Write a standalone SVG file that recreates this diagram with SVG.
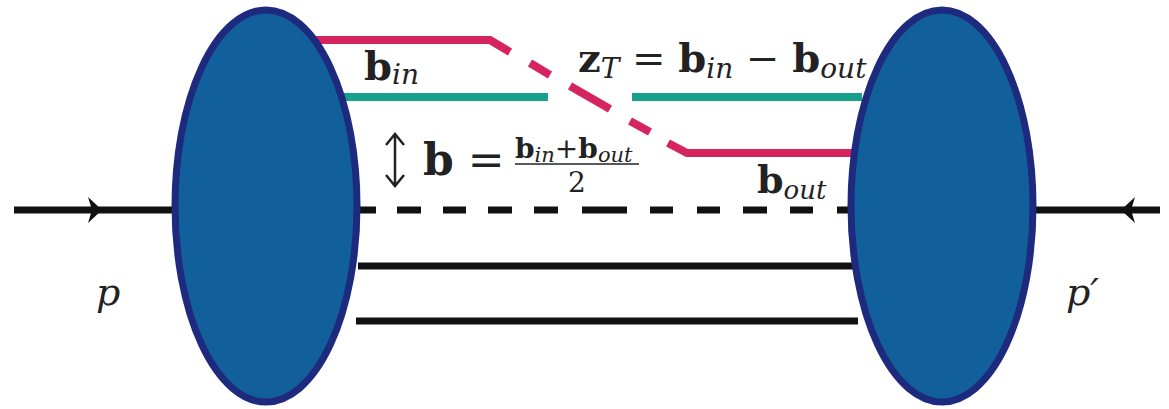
<svg xmlns="http://www.w3.org/2000/svg" width="1169" height="409" viewBox="0 0 1169 409">
<style>
.blob{fill:#12609b;stroke:#1e2a7e;stroke-width:7}
.blk{stroke:#111;stroke-width:7;fill:none}
.red{stroke:#d6245f;stroke-width:8;fill:none}
.teal{stroke:#17a08c;stroke-width:8;fill:none}
.t{font-family:'DejaVu Serif','Liberation Serif',serif;fill:#222}
.bb{font-weight:bold}
.it{font-style:italic}
</style>
<rect width="1169" height="409" fill="#fff"/>
<g id="connectors">
<line class="blk" x1="14" y1="210" x2="178" y2="210"/>
<path d="M102,210 L88,197 L92,210 L88,223 Z" fill="#111"/>
<line class="blk" x1="1030" y1="210" x2="1160" y2="210"/>
<path d="M1121,210 L1135,197 L1131,210 L1135,223 Z" fill="#111"/>
<path class="blk" d="M358,210H376M397,210H421M443,210H466M488,210H512M534,210H558M582,210H627M650,210H673M697,210H720M743,210H767M790,210H813M837,210H852"/>
<line class="blk" x1="358" y1="266" x2="856" y2="266"/>
<line class="blk" x1="356" y1="321" x2="858" y2="321"/>
<line class="teal" x1="343" y1="97" x2="548" y2="97"/>
<line class="teal" x1="632" y1="97" x2="862" y2="97"/>
<path class="red" d="M315,40H490L510,52M530,63L550,75M570,86L610,109M630,121L650,132M668,143L687,153H855"/>
</g>
<g id="left-blob"><ellipse class="blob" cx="266" cy="206" rx="91" ry="196"/></g>
<g id="right-blob"><ellipse class="blob" cx="942" cy="206" rx="91" ry="196"/></g>
<g id="labels">
<text class="t" x="364" y="80" font-size="40"><tspan class="bb">b</tspan><tspan class="it" font-size="28" dy="4">in</tspan></text>
<text class="t" x="578" y="72" font-size="40"><tspan class="bb">z</tspan><tspan class="it" font-size="28" dy="6">T</tspan><tspan dy="-6"> = </tspan><tspan class="bb">b</tspan><tspan class="it" font-size="28" dy="6">in</tspan><tspan dy="-6"> − </tspan><tspan class="bb">b</tspan><tspan class="it" font-size="28" dy="6">out</tspan></text>
<text class="t" x="757" y="193" font-size="38"><tspan class="bb">b</tspan><tspan class="it" font-size="26" dy="6">out</tspan></text>
<path d="M395,136V184M386,145L395,134L404,145M386,175L395,186L404,175" stroke="#222" stroke-width="2.5" fill="none"/>
<text class="t" x="423" y="175" font-size="44"><tspan class="bb">b</tspan><tspan> =</tspan></text>
<text class="t" x="515" y="158" font-size="28"><tspan class="bb">b</tspan><tspan class="it" font-size="21" dy="4">in</tspan><tspan dy="-4">+</tspan><tspan class="bb">b</tspan><tspan class="it" font-size="21" dy="4">out</tspan></text>
<line x1="515" y1="164" x2="639" y2="164" stroke="#222" stroke-width="1.5"/>
<text class="t" x="577" y="192" font-size="28" text-anchor="middle">2</text>
<text class="t it" x="96" y="305" font-size="38">p</text>
<text class="t it" x="1066" y="305" font-size="38">p′</text>
</g>
</svg>
